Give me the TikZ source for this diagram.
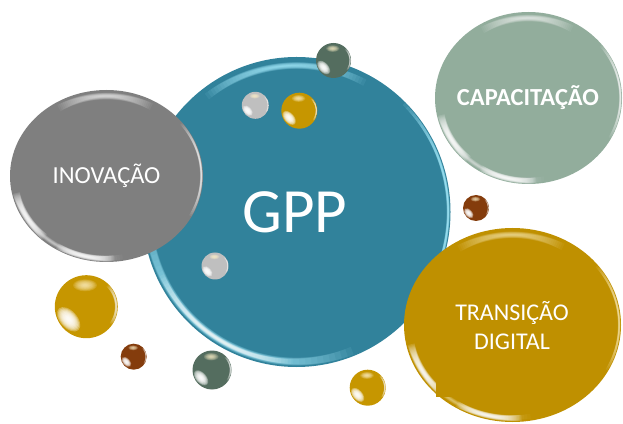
\documentclass[tikz,border=0pt]{standalone}
\usepackage{fontspec}
\setmainfont{Carlito}
\usetikzlibrary{shapes.geometric}
\definecolor{teal1}{HTML}{31829B}
\definecolor{gray1}{HTML}{7F7F7F}
\definecolor{sage1}{HTML}{92AD9C}
\definecolor{gold1}{HTML}{BF9000}
\definecolor{goldball}{HTML}{C69600}
\definecolor{green1}{HTML}{546D5F}
\definecolor{brown1}{HTML}{843C0C}
\definecolor{silver1}{HTML}{BFBFBF}
\definecolor{cyan1}{HTML}{A8EEFF}
\definecolor{yellow1}{HTML}{FFE58A}
\tikzset{
  bubble/.style={ellipse,inner sep=0pt,draw=none},
  ball/.style={circle,inner sep=0pt,draw=none},
  label text/.style={inner sep=0pt,text=white,align=center},
}
% tapered soft highlight: rx ry frac start end width colour opacity
\newcommand{\softarc}[8]{%
  \foreach \k in {0,...,23}{%
    \pgfmathsetmacro\sa{#4+\k*(#5-#4)/49}%
    \pgfmathsetmacro\ea{#5-\k*(#5-#4)/49}%
    \pgfmathsetmacro\wd{#6*(1-\k/25)}%
    \draw[#7,line width=\wd pt,opacity=#8,line cap=butt]
      (\sa:{#1*#3 pt} and {#2*#3 pt}) arc[start angle=\sa,end angle=\ea,x radius=#1*#3 pt,y radius=#2*#3 pt];
  }%
}
% all soft highlights of a large bubble: rx ry colour
\newcommand{\bevel}[3]{%
  \softarc{#1}{#2}{.93}{60}{122}{7}{#3}{.05}
  \softarc{#1}{#2}{.955}{192}{280}{5}{#3}{.035}
  \softarc{#1}{#2}{.955}{192}{228}{7}{white}{.1}
  \softarc{#1}{#2}{.96}{238}{275}{6}{white}{.1}
  \softarc{#1}{#2}{.983}{-28}{38}{2.5}{#3}{.08}
}
% glass ball: name x y r colour
\newcommand{\glassball}[5]{%
  \node[ball,fill=#5,minimum size=#4*2 pt] (#1) at (#2,{423-#3}) {};
  \begin{scope}[shift={(#2,{423-#3})}]
    \clip (0,0) circle[radius=#4 pt];
    \foreach \q in {1,.9,.8,.7,.6,.5,.4,.3,.2}{%
      \fill[white,opacity=.3,shift={(-.56*#4,-.4*#4)},rotate=-48] (0,0) ellipse[x radius=\q*.46*#4 pt,y radius=\q*.27*#4 pt];
      \fill[yellow1!45!white,opacity=.15] (-.04*#4,.68*#4) ellipse[x radius=\q*.38*#4 pt,y radius=\q*.19*#4 pt];
    }
    \softarc{#4}{#4}{.95}{-35}{45}{.09*#4}{white}{.07}
  \end{scope}
}
\begin{document}
\begin{tikzpicture}[x=1pt,y=1pt]
\useasboundingbox (0,0) rectangle (623,423);

% GPP
\node[bubble,fill=teal1,minimum width=308pt,minimum height=310pt] (gpp) at (296.5,211) {};
\begin{scope}[shift={(296.5,211)}]
  \clip (0,0) ellipse[x radius=154pt,y radius=155pt];
  \softarc{154}{155}{.945}{62}{128}{7}{cyan1}{.07}
  \softarc{154}{155}{.965}{178}{292}{8}{cyan1}{.08}
  \softarc{154}{155}{.965}{205}{268}{5}{white}{.07}
  \softarc{154}{155}{.985}{-40}{45}{3}{cyan1}{.1}
\end{scope}
\node[label text,font=\fontsize{63}{63}\selectfont] (gpptext) at (295,211) {GPP};

% INOVACAO
\node[bubble,fill=gray1,minimum width=193pt,minimum height=172pt] (ino) at (106.5,247) {};
\begin{scope}[shift={(106.5,247)}]
  \clip (0,0) ellipse[x radius=96.5pt,y radius=86pt];
  \bevel{96.5}{86}{white}
\end{scope}
\node[label text,font=\fontsize{24.5}{24.5}\selectfont] (inotext) at (106.5,247) {INOVAÇÃO};

% CAPACITACAO
\node[bubble,fill=sage1,minimum width=187pt,minimum height=172pt] (cap) at (528.5,325) {};
\begin{scope}[shift={(528.5,325)}]
  \clip (0,0) ellipse[x radius=93.5pt,y radius=86pt];
  \bevel{93.5}{86}{white}
\end{scope}
\node[label text,font=\fontsize{24.5}{24.5}\selectfont\bfseries] (captext) at (528,325) {CAPACITAÇÃO};

% TRANSICAO DIGITAL
\node[bubble,fill=gold1,minimum width=217pt,minimum height=194pt] (tra) at (512.5,98) {};
\begin{scope}[shift={(512.5,98)}]
  \clip (0,0) ellipse[x radius=108.5pt,y radius=97pt];
  \bevel{108.5}{97}{yellow1!60!white}
\end{scope}
\node[rectangle,fill=gold1,inner sep=0pt,minimum width=148pt,minimum height=140pt,anchor=north west] (trabox) at (436,166) {};
\node[label text,font=\fontsize{24}{29}\selectfont] (tratext) at (512,97.5) {TRANSIÇÃO\\DIGITAL};

% small balls
\glassball{g1}{333.5}{60.5}{17.5}{green1}
\glassball{s1}{255.3}{105.3}{13.5}{silver1}
\glassball{o1}{299.3}{110.7}{18}{goldball}
\glassball{s2}{215}{266}{13.5}{silver1}
\glassball{o2}{86.3}{306.7}{31.5}{goldball}
\glassball{b1}{133.7}{356.7}{13}{brown1}
\glassball{g2}{212}{370}{19.5}{green1}
\glassball{o3}{367.7}{387.7}{18}{goldball}
\glassball{b2}{476}{208}{13}{brown1}
\end{tikzpicture}
\end{document}
